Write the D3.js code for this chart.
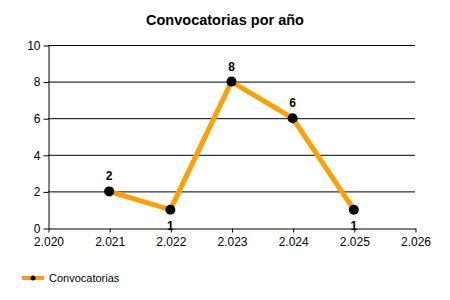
<!DOCTYPE html>
<html lang="es">
<head>
<meta charset="UTF-8">
<script src="https://d3js.org/d3.v7.min.js"></script>
<style>
  body { margin: 0; background: #fff; }
  svg { font-family: "Liberation Sans", Arial, sans-serif; }
</style>
</head>
<body>
<svg id="chart"></svg>
<script>
const years = [2021, 2022, 2023, 2024, 2025];
const counts = [2, 1, 8, 6, 1];
const labelSide = ["above", "below", "above", "above", "below"];
const xTicks = [2020, 2021, 2022, 2023, 2024, 2025, 2026];
const xTickLabels = ["2.020", "2.021", "2.022", "2.023", "2.024", "2.025", "2.026"];
const yTicks = [0, 2, 4, 6, 8, 10];

const width = 450, height = 300;
const margin = {top: 45, right: 35, bottom: 72, left: 48};

const svg = d3.select("#chart").attr("width", width).attr("height", height);

const x = d3.scaleLinear().domain([2020, 2026]).range([margin.left, width - margin.right]);
const y = d3.scaleLinear().domain([0, 10]).range([height - margin.bottom, margin.top]);

svg.append("text")
  .attr("x", 225).attr("y", 25)
  .attr("text-anchor", "middle")
  .attr("font-size", 14.5).attr("font-weight", "bold")
  .text("Convocatorias por año");

// grid lines
svg.append("g").selectAll("line").data(yTicks.slice(1)).join("line")
  .attr("x1", margin.left).attr("x2", width - margin.right)
  .attr("y1", d => y(d) + 0.5).attr("y2", d => y(d) + 0.5)
  .attr("stroke", "#000");

// y axis
const yAxis = svg.append("g")
  .attr("transform", `translate(${margin.left + 0.5},0.5)`)
  .call(d3.axisLeft(y).tickValues(yTicks).tickSize(5).tickSizeOuter(0));
yAxis.selectAll("text").attr("font-size", 12).attr("fill", "#000").attr("font-family", "Liberation Sans, Arial, sans-serif");
yAxis.select(".domain").attr("stroke", "#000");

// x axis
const xAxis = svg.append("g")
  .attr("transform", `translate(0.5,${y(0) + 0.5})`)
  .call(d3.axisBottom(x).tickValues(xTicks).tickFormat((d, i) => xTickLabels[i]).tickSize(4).tickSizeOuter(0));
xAxis.selectAll("text").attr("font-size", 12).attr("fill", "#000").attr("font-family", "Liberation Sans, Arial, sans-serif").attr("dy", "0.85em");
xAxis.select(".domain").attr("stroke", "#000");

const data = years.map((d, i) => ({year: d, value: counts[i], side: labelSide[i]}));

const line = d3.line().x(d => x(d.year)).y(d => y(d.value));
svg.append("path").datum(data)
  .attr("d", line)
  .attr("fill", "none")
  .attr("stroke", "#FFA000")
  .attr("stroke-width", 5)
  .attr("stroke-linejoin", "round");

svg.append("g").selectAll("circle").data(data).join("circle")
  .attr("cx", d => x(d.year)).attr("cy", d => y(d.value))
  .attr("r", 5).attr("fill", "#000");

svg.append("g").selectAll("text").data(data).join("text")
  .attr("x", d => x(d.year))
  .attr("y", d => d.side === "above" ? y(d.value) - 11 : y(d.value) + 20)
  .attr("text-anchor", "middle")
  .attr("font-size", 12).attr("font-weight", "bold")
  .text(d => d.value);

// legend
const lg = svg.append("g").attr("transform", "translate(22,278)");
lg.append("line").attr("x1", 0).attr("x2", 22).attr("y1", 0).attr("y2", 0)
  .attr("stroke", "#FFA000").attr("stroke-width", 4);
lg.append("circle").attr("cx", 11).attr("cy", 0).attr("r", 2.5).attr("fill", "#000");
lg.append("text").attr("x", 27).attr("y", 4).attr("font-size", 11).text("Convocatorias");
</script>
</body>
</html>
